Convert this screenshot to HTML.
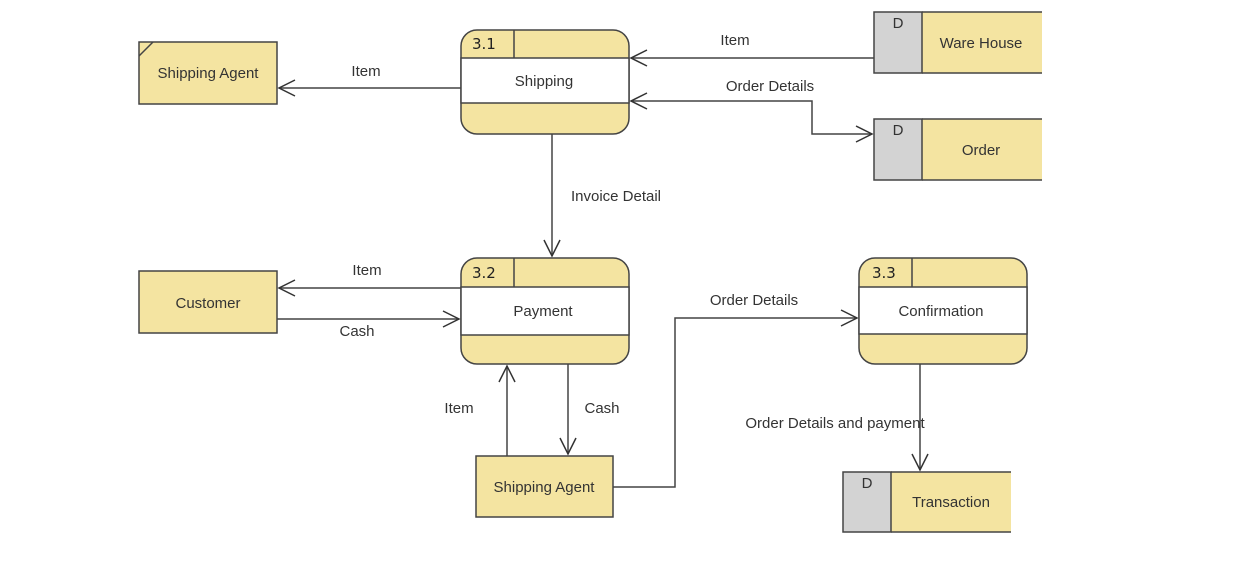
<!DOCTYPE html>
<html><head><meta charset="utf-8"><style>
html,body{margin:0;padding:0;background:#fff;}
svg{display:block;}
text{font-family:"Liberation Sans",sans-serif;font-size:15px;fill:#333;}
.n{font-family:"DejaVu Sans","Liberation Sans",sans-serif;font-size:15px;fill:#222;}
</style></head><body>
<svg width="1254" height="578" viewBox="0 0 1254 578" xmlns="http://www.w3.org/2000/svg">
<defs>
<marker id="a" markerWidth="20" markerHeight="20" refX="18" refY="10" orient="auto" markerUnits="userSpaceOnUse">
<path d="M2,2 L18,10 L2,18" fill="none" stroke="#333" stroke-width="1.5"/>
</marker>
<marker id="s" markerWidth="20" markerHeight="20" refX="2" refY="10" orient="auto" markerUnits="userSpaceOnUse">
<path d="M18,2 L2,10 L18,18" fill="none" stroke="#333" stroke-width="1.5"/>
</marker>
</defs>
<g stroke="#444" stroke-width="1.5" fill="none">
<!-- connectors -->
<line x1="461" y1="88" x2="279" y2="88" marker-end="url(#a)"/>
<line x1="874" y1="58" x2="631" y2="58" marker-end="url(#a)"/>
<polyline points="631,101 812,101 812,134 872,134" marker-start="url(#s)" marker-end="url(#a)"/>
<line x1="552" y1="134" x2="552" y2="256" marker-end="url(#a)"/>
<line x1="461" y1="288" x2="279" y2="288" marker-end="url(#a)"/>
<line x1="277" y1="319" x2="459" y2="319" marker-end="url(#a)"/>
<line x1="507" y1="456" x2="507" y2="366" marker-end="url(#a)"/>
<line x1="568" y1="364" x2="568" y2="454" marker-end="url(#a)"/>
<polyline points="613,487 675,487 675,318 857,318" marker-end="url(#a)"/>
<line x1="920" y1="364" x2="920" y2="470" marker-end="url(#a)"/>
</g>
<g stroke="#444" stroke-width="1.5">
<!-- external entities -->
<rect x="139" y="42" width="138" height="62" fill="#f4e4a1"/>
<line x1="139" y1="56" x2="153" y2="42"/>
<rect x="139" y="271" width="138" height="62" fill="#f4e4a1"/>
<rect x="476" y="456" width="137" height="61" fill="#f4e4a1"/>
<!-- processes -->
<rect x="461" y="30" width="168" height="104" rx="16" fill="#f4e4a1"/>
<rect x="461" y="58" width="168" height="45" fill="#fff"/>
<line x1="514" y1="30" x2="514" y2="58"/>
<rect x="461" y="258" width="168" height="106" rx="16" fill="#f4e4a1"/>
<rect x="461" y="287" width="168" height="48" fill="#fff"/>
<line x1="514" y1="258" x2="514" y2="287"/>
<rect x="859" y="258" width="168" height="106" rx="16" fill="#f4e4a1"/>
<rect x="859" y="287" width="168" height="47" fill="#fff"/>
<line x1="912" y1="258" x2="912" y2="287"/>
<!-- data stores -->
<rect x="922" y="12" width="120" height="61" fill="#f4e4a1" stroke="none"/>
<rect x="874" y="12" width="48" height="61" fill="#d3d3d3"/>
<polyline points="922,12 1042,12" fill="none"/><polyline points="922,73 1042,73" fill="none"/>
<rect x="922" y="119" width="120" height="61" fill="#f4e4a1" stroke="none"/>
<rect x="874" y="119" width="48" height="61" fill="#d3d3d3"/>
<polyline points="922,119 1042,119" fill="none"/><polyline points="922,180 1042,180" fill="none"/>
<rect x="891" y="472" width="120" height="60" fill="#f4e4a1" stroke="none"/>
<rect x="843" y="472" width="48" height="60" fill="#d3d3d3"/>
<polyline points="891,472 1011,472" fill="none"/><polyline points="891,532 1011,532" fill="none"/>
</g>
<!-- texts -->
<text x="208" y="78" text-anchor="middle">Shipping Agent</text>
<text x="208" y="308" text-anchor="middle">Customer</text>
<text x="544" y="492" text-anchor="middle">Shipping Agent</text>
<text class="n" x="472" y="49">3.1</text>
<text x="544" y="86" text-anchor="middle">Shipping</text>
<text class="n" x="472" y="278">3.2</text>
<text x="543" y="316" text-anchor="middle">Payment</text>
<text class="n" x="872" y="278">3.3</text>
<text x="941" y="316" text-anchor="middle">Confirmation</text>
<text x="898" y="28" text-anchor="middle">D</text>
<text x="981" y="48" text-anchor="middle">Ware House</text>
<text x="898" y="135" text-anchor="middle">D</text>
<text x="981" y="155" text-anchor="middle">Order</text>
<text x="867" y="488" text-anchor="middle">D</text>
<text x="951" y="507" text-anchor="middle">Transaction</text>
<text x="366" y="76" text-anchor="middle">Item</text>
<text x="735" y="45" text-anchor="middle">Item</text>
<text x="770" y="91" text-anchor="middle">Order Details</text>
<text x="616" y="201" text-anchor="middle">Invoice Detail</text>
<text x="367" y="275" text-anchor="middle">Item</text>
<text x="357" y="336" text-anchor="middle">Cash</text>
<text x="459" y="413" text-anchor="middle">Item</text>
<text x="602" y="413" text-anchor="middle">Cash</text>
<text x="754" y="305" text-anchor="middle">Order Details</text>
<text x="835" y="428" text-anchor="middle">Order Details and payment</text>
</svg>
</body></html>
